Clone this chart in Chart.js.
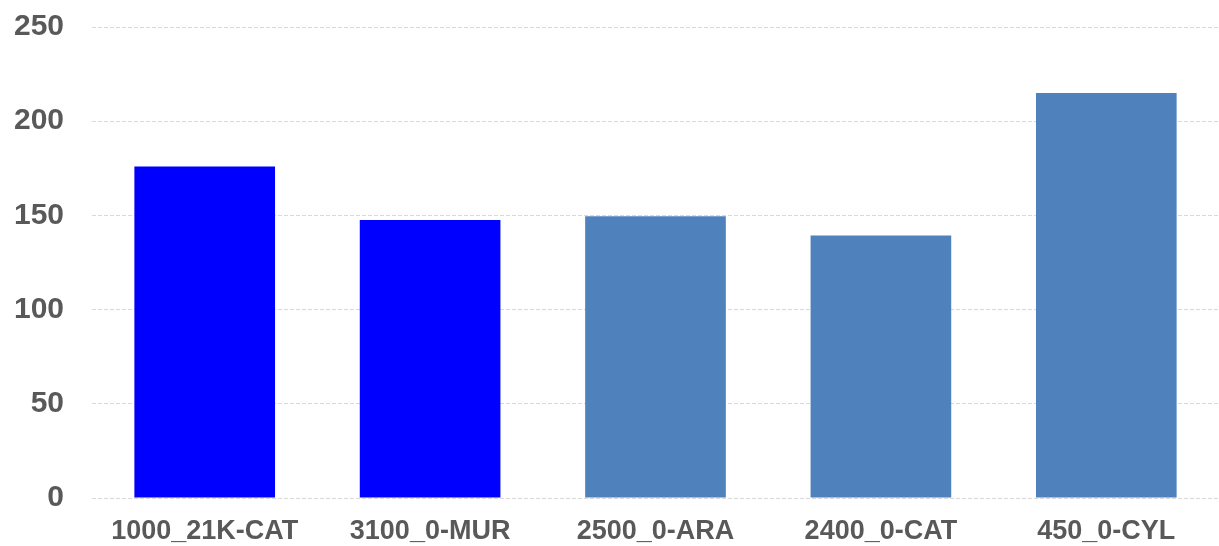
<!DOCTYPE html>
<html>
<head>
<meta charset="utf-8">
<script src="https://cdn.jsdelivr.net/npm/chart.js@4"></script>
<style>
  html, body { margin: 0; padding: 0; background: #ffffff; }
  #wrap { width: 1219px; height: 546px; position: relative; }
</style>
</head>
<body>
<div id="wrap"><canvas id="c" width="1219" height="546"></canvas></div>
<script>
const categories = ["1000_21K-CAT", "3100_0-MUR", "2500_0-ARA", "2400_0-CAT", "450_0-CYL"];
const values = [176, 147.5, 149.5, 139.3, 215];
const barColors = ["#0000FF", "#0000FF", "#4F81BD", "#4F81BD", "#4F81BD"];
const yTicks = [0, 50, 100, 150, 200, 250];

new Chart(document.getElementById('c'), {
  type: 'bar',
  data: {
    labels: categories,
    datasets: [{
      data: values,
      backgroundColor: barColors,
      borderWidth: 0,
      categoryPercentage: 1,
      barPercentage: 0.624
    }]
  },
  options: {
    responsive: false,
    animation: false,
    devicePixelRatio: 1,
    layout: { padding: { top: 27, right: 0, bottom: 0, left: 0 } },
    plugins: { legend: { display: false }, tooltip: { enabled: false } },
    scales: {
      x: {
        grid: { display: false, drawTicks: false },
        border: { display: false },
        ticks: {
          color: '#595959',
          font: { family: 'Liberation Sans, Arial, sans-serif', size: 27, weight: 'bold' },
          padding: 17,
          maxRotation: 0,
          autoSkip: false
        },
        afterFit: (s) => { s.height = 48; s.paddingLeft = 0; s.paddingRight = 0; }
      },
      y: {
        min: 0,
        max: 250,
        afterBuildTicks: (s) => { s.ticks = yTicks.map(v => ({ value: v })); },
        grid: { color: '#d9d9d9', lineWidth: 1, drawTicks: false },
        border: { display: false, dash: [4, 2] },
        ticks: {
          color: '#595959',
          font: { family: 'Liberation Sans, Arial, sans-serif', size: 30, weight: 'bold' },
          padding: 28
        },
        afterFit: (s) => { s.width = 92; s.paddingTop = 0; s.paddingBottom = 0; }
      }
    }
  }
});
</script>
</body>
</html>
